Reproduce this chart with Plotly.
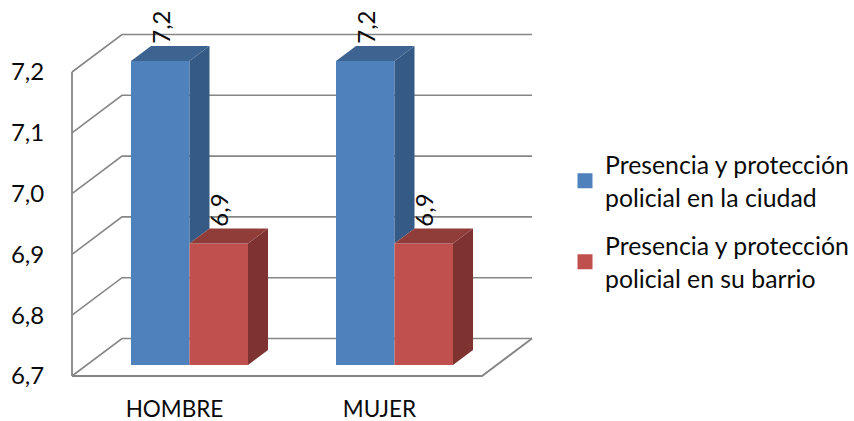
import plotly.graph_objects as go

categories = ["HOMBRE", "MUJER"]
series_names = ["Presencia y protección<br>policial en la ciudad",
                "Presencia y protección<br>policial en su barrio"]
ciudad = [7.2, 7.2]
barrio = [6.9, 6.9]
y_ticks = [6.7, 6.8, 6.9, 7.0, 7.1, 7.2]

W, H = 854, 421
PL, PR, PT, PB = 60, 560, 5, 385      # plot area in px
PXU, PXV = 205.0, 608.0               # px per category / per value unit
X0_PX, V0_PX = 174.5, 376.0           # front plane: category 0, value 6.7
BASE = y_ticks[0]
TOP = y_ticks[-1]
FONT = "Lato"
GRID = "#868686"
INK = "#0A0A0A"

x_rng = [(PL - X0_PX) / PXU, (PR - X0_PX) / PXU]
y_rng = [BASE - (PB - V0_PX) / PXV, BASE + (V0_PX - PT) / PXV]
# the bars stand in a plane set slightly back from the front of the floor
SHIFT_X, SHIFT_Y = 15 / PXU, 11 / PXV
x2_rng = [x_rng[0] - SHIFT_X, x_rng[1] - SHIFT_X]
y2_rng = [y_rng[0] - SHIFT_Y, y_rng[1] - SHIFT_Y]

WALL_DX, WALL_DY = 50 / PXU, 37.5 / PXV
BAR_DX, BAR_DY = 20 / PXU, 15 / PXV
BW = 58.5 / PXU
LEFT, RIGHT = -0.5, 1.5

fig = go.Figure()


def frame_line(xs, ys, width):
    fig.add_trace(go.Scatter(x=xs, y=ys, mode="lines", showlegend=False, hoverinfo="skip",
                             line=dict(color=GRID, width=width), xaxis="x", yaxis="y"))


for v in y_ticks:
    frame_line([LEFT, LEFT + WALL_DX, RIGHT + WALL_DX], [v, v + WALL_DY, v + WALL_DY], 1.6)
frame_line([LEFT, LEFT], [BASE, TOP], 1.8)
frame_line([LEFT, RIGHT, RIGHT + WALL_DX], [BASE, BASE, BASE + WALL_DY], 1.8)

colors = [dict(front="#4F81BD", side="#355A86", top="#3D6491"),
          dict(front="#C0504D", side="#7E3331", top="#903C39")]
offsets = [-BW, 0.0]
idx = list(range(len(categories)))

for s, vals in enumerate([ciudad, barrio]):
    fig.add_trace(go.Bar(x=idx, y=[round(v - BASE, 6) for v in vals], base=BASE, width=BW, offset=offsets[s],
                         marker=dict(color=colors[s]["front"], line=dict(width=0)),
                         showlegend=False, xaxis="x2", yaxis="y2", hoverinfo="skip"))

for s, vals in enumerate([ciudad, barrio]):
    for i, v in enumerate(vals):
        a = i + offsets[s]
        b = a + BW
        low = barrio[i] if s == 0 else BASE
        fig.add_trace(go.Scatter(x=[b, b + BAR_DX, b + BAR_DX, b, b],
                                 y=[v, v + BAR_DY, low + BAR_DY, low, v],
                                 mode="lines", fill="toself", fillcolor=colors[s]["side"],
                                 line=dict(width=0), showlegend=False, hoverinfo="skip",
                                 xaxis="x2", yaxis="y2"))
        fig.add_trace(go.Scatter(x=[a, b, b + BAR_DX, a + BAR_DX, a],
                                 y=[v, v, v + BAR_DY, v + BAR_DY, v],
                                 mode="lines", fill="toself", fillcolor=colors[s]["top"],
                                 line=dict(width=0), showlegend=False, hoverinfo="skip",
                                 xaxis="x2", yaxis="y2"))
        fig.add_annotation(x=a + BW / 2, y=v, xref="x2", yref="y2", yshift=15,
                           text=f"{v:.1f}".replace(".", ","), textangle=-90, showarrow=False,
                           xanchor="center", yanchor="bottom",
                           font=dict(family=FONT, size=24, color=INK))

for s, name in enumerate(series_names):
    fig.add_trace(go.Scatter(x=[None], y=[None], mode="markers", name=f'<span style="font-size:24.8px">{name}</span>',
                             legendgroup=f"g{s}",
                             marker=dict(symbol="square", size=15, color=colors[s]["front"]),
                             xaxis="x", yaxis="y"))

axis_font = dict(family=FONT, size=24, color=INK)
fig.update_layout(
    width=W, height=H, autosize=False,
    margin=dict(l=PL, r=W - PR, t=PT, b=H - PB, pad=0, autoexpand=False),
    paper_bgcolor="white", plot_bgcolor="white",
    barmode="overlay",
    font=dict(family=FONT, color=INK),
    showlegend=True,
    legend=dict(x=(572 - PL) / (PR - PL), xanchor="left", y=0.64, yanchor="top",
                font=dict(family=FONT, size=25, color=INK), indentation=-7,
                itemsizing="trace", itemwidth=30, tracegroupgap=13, bgcolor="rgba(0,0,0,0)"),
    xaxis=dict(range=x_rng, tickmode="array", tickvals=idx, ticktext=categories, showgrid=False,
               zeroline=False, showline=False, ticks="outside", ticklen=4, tickcolor="rgba(0,0,0,0)",
               tickfont=dict(family=FONT, size=22.5, color=INK), fixedrange=True, automargin=False),
    yaxis=dict(range=y_rng, tickmode="array", tickvals=y_ticks,
               ticktext=[f"{v:.1f}".replace(".", ",") for v in y_ticks], showgrid=False,
               zeroline=False, showline=False, ticks="outside", ticklen=10, tickcolor="rgba(0,0,0,0)",
               tickfont=axis_font, fixedrange=True, automargin=False),
    xaxis2=dict(range=x2_rng, overlaying="x", visible=False, fixedrange=True),
    yaxis2=dict(range=y2_rng, overlaying="y", visible=False, fixedrange=True),
)
fig.write_html("out.html", config=dict(displayModeBar=False),
               post_script="document.body.style.margin='0';document.body.style.overflow='hidden';")
